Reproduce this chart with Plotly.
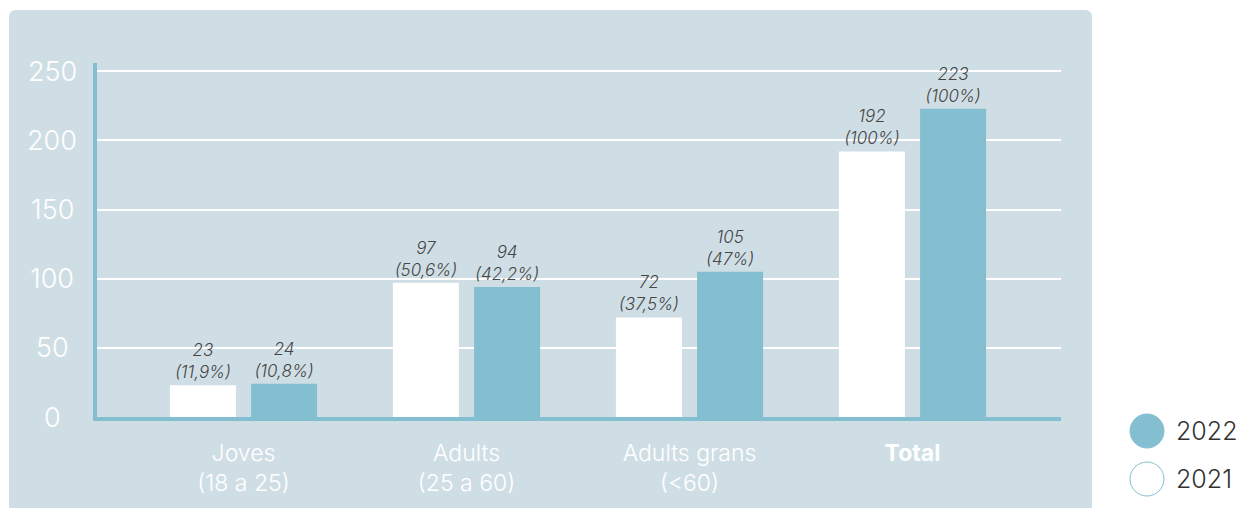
import plotly.graph_objects as go

categories = ["Joves<br>(18 a 25)", "Adults<br>(25 a 60)", "Adults grans<br>(<60)", "<b>Total</b>"]
values_2021 = [23, 97, 72, 192]
values_2022 = [24, 94, 105, 223]
pct_2021 = ["11,9%", "50,6%", "37,5%", "100%"]
pct_2022 = ["10,8%", "42,2%", "47%", "100%"]
y_ticks = [0, 50, 100, 150, 200, 250]
series_names = ["2022", "2021"]

PANEL = "#CFDEE5"
TEAL = "#84BFD1"
FONT = "Inter"

# the page puts the figure 8px in from the window corner
OFF = 8
W, H = 1245, 508
L, T = 97 - OFF, 63 - OFF
R = W - (1061 - OFF)
B = H - (417 - OFF)
pw, ph = W - L - R, H - T - B

BAR_W = 0.296
BAR_GAP = 0.068


def px_x(x):
    # window pixel -> paper
    return (x - OFF - L) / pw


def px_y(y):
    return (H - B - (y - OFF)) / ph


def labels(vals, pcts):
    return [f"<i>{v}<br>({p})</i>" for v, p in zip(vals, pcts)]


label_font = dict(family=FONT, size=17, color="#454545", weight=300)

fig = go.Figure()
fig.add_trace(go.Bar(x=categories, y=values_2021, name=series_names[1],
                     width=BAR_W, offset=-BAR_W - BAR_GAP / 2,
                     marker=dict(color="white", line_width=0),
                     text=labels(values_2021, pct_2021), textposition="outside",
                     textfont=label_font, cliponaxis=False, showlegend=False))
fig.add_trace(go.Bar(x=categories, y=values_2022, name=series_names[0],
                     width=BAR_W, offset=BAR_GAP / 2,
                     marker=dict(color=TEAL, line_width=0),
                     text=labels(values_2022, pct_2022), textposition="outside",
                     textfont=label_font, cliponaxis=False, showlegend=False))

# rounded panel behind the plot
x0, x1 = px_x(9), px_x(1092)
y0, y1 = px_y(540), px_y(10)
rx, ry = 7 / pw, 7 / ph
panel_path = (f"M {x0} {y0} L {x0} {y1 - ry} Q {x0} {y1} {x0 + rx} {y1} "
              f"L {x1 - rx} {y1} Q {x1} {y1} {x1} {y1 - ry} L {x1} {y0} Z")
fig.add_shape(type="path", path=panel_path, xref="paper", yref="paper",
              fillcolor=PANEL, line_width=0, layer="below")

# y tick labels, centred like the original
for t in y_ticks:
    fig.add_annotation(x=px_x(52), y=t, xref="paper", yref="y", text=str(t),
                       showarrow=False, xanchor="center", yanchor="middle",
                       font=dict(family=FONT, size=27, color="white", weight=300))

# legend with big circles
for i, (name, fill) in enumerate([(series_names[0], TEAL), (series_names[1], "white")]):
    cy = px_y(431 + 48 * i)
    fig.add_shape(type="circle", xref="paper", yref="paper",
                  xsizemode="pixel", ysizemode="pixel",
                  xanchor=px_x(1147), yanchor=cy,
                  x0=-17, x1=17, y0=-17, y1=17,
                  fillcolor=fill, line=dict(color=TEAL, width=1))
    fig.add_annotation(x=px_x(1174), y=cy, xref="paper", yref="paper", text=name,
                       showarrow=False, xanchor="left", yanchor="middle",
                       font=dict(family=FONT, size=25, color="#333333", weight=300))

fig.update_layout(
    width=W, height=H,
    margin=dict(l=L, r=R, t=T, b=B),
    paper_bgcolor="white",
    plot_bgcolor="rgba(0,0,0,0)",
    barmode="overlay",
    font=dict(family=FONT),
    showlegend=False,
)
fig.update_xaxes(range=[-0.657, 3.666], showline=True, linecolor=TEAL, linewidth=4,
                 ticks="outside", ticklen=12, tickcolor="rgba(0,0,0,0)",
                 tickfont=dict(family=FONT, size=23, color="white", weight=300),
                 showgrid=False)
fig.update_yaxes(range=[0, 256], showline=True, linecolor=TEAL, linewidth=4,
                 showgrid=True, gridcolor="white", gridwidth=1.5,
                 tickvals=y_ticks, showticklabels=False, zeroline=False)

fig.write_html("out.html")
